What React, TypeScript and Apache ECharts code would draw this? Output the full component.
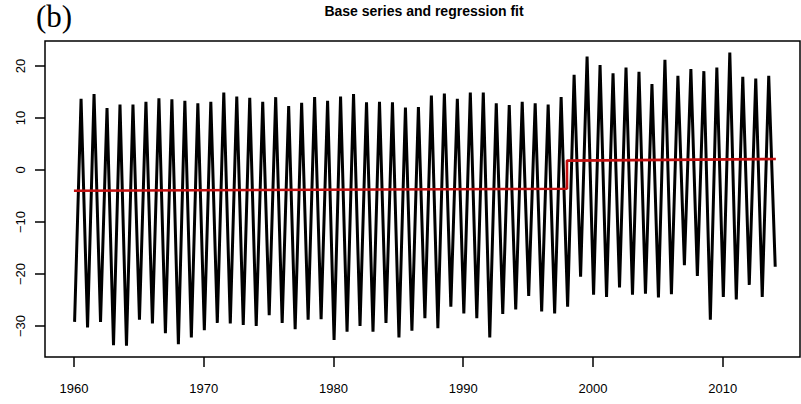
import React, { useEffect, useRef } from "react";
import * as echarts from "echarts";

// Yearly extremes of the base series: winter troughs (Jan/Feb) and summer peaks (Jul)
const startYear = 1960;
const summerPeaks = [
  13.7, 14.6, 11.9, 12.6, 12.6, 13.1, 13.8, 13.6, 13.3, 12.8,
  13.1, 14.9, 14.1, 13.9, 13.1, 14.0, 12.3, 12.9, 14.0, 13.3,
  14.1, 14.6, 13.0, 13.1, 13.0, 12.0, 12.1, 14.3, 14.7, 13.7,
  14.9, 14.9, 12.8, 12.5, 13.1, 12.8, 12.6, 14.0, 18.3, 21.8,
  20.2, 18.6, 19.7, 18.9, 16.5, 21.2, 18.1, 19.4, 19.0, 19.7,
  22.6, 17.9, 17.6, 18.1,
];
const winterTroughs = [
  -29.2, -30.3, -29.2, -33.7, -33.8, -28.8, -29.5, -31.4, -33.5, -32.2,
  -30.8, -29.4, -29.5, -29.8, -30.0, -27.9, -29.4, -30.6, -28.8, -28.7,
  -32.7, -31.1, -30.0, -31.1, -29.4, -32.2, -30.9, -28.5, -30.4, -26.3,
  -27.6, -28.5, -32.2, -27.7, -26.8, -24.2, -27.2, -27.6, -26.3, -20.5,
  -24.0, -24.4, -22.6, -24.0, -23.8, -24.5, -23.9, -18.3, -20.4, -28.8,
  -24.4, -24.9, -22.1, -24.4, -18.6,
];
const troughOffset = 0.05; // fraction of the year where the winter low sits
const peakOffset = 0.55; // fraction of the year where the summer high sits

// Piecewise regression fit with a break in 1998
const fitX = [1960, 1998, 1998, 2014.1];
const fitY = [-4.0, -3.6, 1.8, 2.1];

const xTicks = [1960, 1970, 1980, 1990, 2000, 2010];
const yTicks = [-30, -20, -10, 0, 10, 20];

const fmtMinus = (v: number) => (v < 0 ? "\u2212" + Math.abs(v) : String(v));

export default function App() {
  const ref = useRef<HTMLDivElement>(null);

  useEffect(() => {
    document.body.style.margin = "0";
    if (!ref.current) return;
    const chart = echarts.init(ref.current, undefined, { renderer: "svg" });

    const base: [number, number][] = [];
    winterTroughs.forEach((t, i) => {
      base.push([startYear + i + troughOffset, t]);
      if (i < summerPeaks.length) base.push([startYear + i + peakOffset, summerPeaks[i]]);
    });
    const fit = fitX.map((x, i) => [x, fitY[i]]);

    const font = "'Liberation Sans', Arial, sans-serif";

    chart.setOption({
      animation: false,
      backgroundColor: "#ffffff",
      grid: {
        left: 45,
        top: 41,
        width: 755,
        height: 316,
        show: true,
        borderColor: "#000",
        borderWidth: 1.5,
        backgroundColor: "transparent",
      },
      xAxis: {
        type: "value",
        min: 1957.77,
        max: 2015.96,
        position: "bottom",
        axisLine: { show: false, onZero: false },
        splitLine: { show: false },
        axisTick: {
          show: true,
          length: 10,
          customValues: xTicks,
          lineStyle: { color: "#000", width: 1.5 },
        },
        axisLabel: {
          customValues: xTicks,
          margin: 25,
          color: "#000",
          fontSize: 13,
          fontFamily: font,
          formatter: (v: number) => String(v),
        },
      },
      yAxis: {
        type: "value",
        min: -35.96,
        max: 24.8,
        axisLine: { show: false, onZero: false },
        splitLine: { show: false },
        axisTick: {
          show: true,
          length: 10,
          customValues: yTicks,
          lineStyle: { color: "#000", width: 1.5 },
        },
        axisLabel: {
          customValues: yTicks,
          rotate: 90,
          margin: 18,
          color: "#000",
          fontSize: 13,
          fontFamily: font,
          formatter: fmtMinus,
        },
      },
      graphic: [
        {
          type: "text",
          left: 36,
          top: 1,
          style: {
            text: "(b)",
            fontSize: 31,
            fontFamily: "'Liberation Serif', 'Times New Roman', serif",
            fill: "#000",
          },
        },
        {
          type: "text",
          x: 424,
          y: 11,
          style: {
            text: "Base series and regression fit",
            fontSize: 14,
            fontWeight: "bold",
            fontFamily: font,
            fill: "#000",
            align: "center",
            verticalAlign: "middle",
          },
        },
      ],
      series: [
        {
          type: "line",
          data: base,
          showSymbol: false,
          symbol: "none",
          lineStyle: { color: "#000", width: 3, join: "miter", miterLimit: 4 },
          z: 2,
        },
        {
          type: "line",
          data: fit,
          showSymbol: false,
          symbol: "none",
          lineStyle: { color: "#c41010", width: 2.6 },
          z: 3,
        },
      ],
    });

    return () => chart.dispose();
  }, []);

  return <div ref={ref} style={{ width: 801, height: 404 }} />;
}
